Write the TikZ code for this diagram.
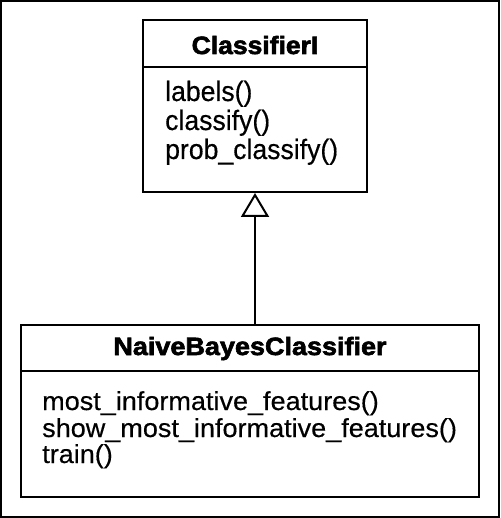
\documentclass[tikz,border=0pt]{standalone}
\usepackage{fontspec}
\setmainfont{Liberation Sans}
\newfontfamily\bodyA[FakeStretch=0.95,FakeBold=0.4]{Liberation Sans}
\newfontfamily\bodyB[FakeStretch=1.04,FakeBold=0.4]{Liberation Sans}
\newfontfamily\titleA[FakeStretch=1.06,FakeBold=2.5]{Liberation Sans Bold}
\newfontfamily\titleB[FakeStretch=1.08,FakeBold=2.5]{Liberation Sans Bold}
\usetikzlibrary{arrows.meta}
\tikzset{
  box/.style={draw, line width=2pt, inner sep=0pt},
  divider/.style={line width=2pt},
  ttlA/.style={anchor=base, inner sep=0pt, font=\titleA\fontsize{25}{28}\selectfont},
  ttlB/.style={anchor=base, inner sep=0pt, font=\titleB\fontsize{25}{28}\selectfont},
  opA/.style={anchor=base west, inner sep=0pt, font=\bodyA\fontsize{28}{30}\selectfont},
  opB/.style={anchor=base west, inner sep=0pt, font=\bodyB\fontsize{26}{28}\selectfont},
  inherit/.style={line width=2pt, -{Triangle[open,length=24pt,width=28pt,line width=2pt]}}
}
\begin{document}
\begin{tikzpicture}[x=1pt,y=-1pt]
\useasboundingbox (0,0) rectangle (500,518);
\draw[line width=2pt] (1,1) rectangle (499,517);
% top class
\node[box, minimum width=224pt, minimum height=172pt] (cls) at (255,106) {};
\draw[divider] (143,67) -- (367,67);
\node[ttlA] (clsname) at (255,54) {ClassifierI};
\node[opA] (m1) at (165,101) {labels()};
\node[opA] (m2) at (165,130) {classify()};
\node[opA] (m3) at (165,159) {prob\_classify()};
% bottom class
\node[box, minimum width=458pt, minimum height=172pt] (nb) at (250,411) {};
\draw[divider] (21,371) -- (479,371);
\node[ttlB] (nbname) at (250,355) {NaiveBayesClassifier};
\node[opB] (n1) at (42,410) {most\_informative\_features()};
\node[opB] (n2) at (42,437) {show\_most\_informative\_features()};
\node[opB] (n3) at (42,463) {train()};
% generalization
\draw[inherit] (cls.south |- nb.north) -- (cls.south);
\end{tikzpicture}
\end{document}
